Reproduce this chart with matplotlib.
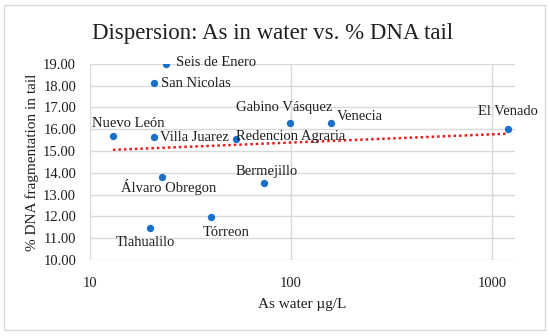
import numpy as np
import matplotlib
matplotlib.use("Agg")
import matplotlib.pyplot as plt
from matplotlib.patches import Rectangle

# sites, arsenic in water (ug/L) and % DNA in tail
sites = ["Nuevo León", "Villa Juarez", "Redencion Agraria", "Álvaro Obregon",
         "Bermejillo", "Tórreon", "Tlahualilo", "Gabino Vásquez", "Venecia",
         "El Venado", "Seis de Enero", "San Nicolas"]
as_water = [13.0, 20.8, 53.3, 22.9, 73.0, 39.8, 19.8, 98.4, 158.0, 1200.0, 23.9, 20.8]
dna_tail = [15.68, 15.62, 15.53, 13.82, 13.51, 11.95, 11.45, 16.29, 16.29, 15.99, 18.97, 18.10]

# label placement (pixel offsets from the point, ha)
label_pos = {
    "Nuevo León": (15, 13, "center"),
    "Villa Juarez": (6, 0, "left"),
    "Redencion Agraria": (0, 3, "left"),
    "Álvaro Obregon": (6, -10, "center"),
    "Bermejillo": (3, 12, "center"),
    "Tórreon": (16, -15, "center"),
    "Tlahualilo": (-4, -14, "center"),
    "Gabino Vásquez": (-5, 15, "center"),
    "Venecia": (6, 6, "left"),
    "El Venado": (0, 18, "center"),
    "Seis de Enero": (10, 2, "left"),
    "San Nicolas": (7, 0, "left"),
}

plt.rcParams["font.family"] = ["Liberation Serif", "DejaVu Serif"]

fig = plt.figure(figsize=(5.5, 3.36), dpi=100)
fig.patches.append(Rectangle((4 / 550, 6 / 336), 541 / 550, 325 / 336,
                             transform=fig.transFigure, fill=False,
                             edgecolor="#d9d9d9", linewidth=1))
ax = fig.add_axes([90 / 550, 1 - 260 / 336, 425 / 550, 196.3 / 336])

x = np.array(as_water)
y = np.array(dna_tail)

# logarithmic trendline
b, a = np.polyfit(np.log(x), y, 1)
xt = np.logspace(np.log10(x.min()), np.log10(x.max()), 200)
ax.plot(xt, a + b * np.log(xt), color="#e81c1c", linestyle=(0, (1, 1.2)),
        linewidth=1.8, zorder=2)

ax.scatter(x, y, s=28, color="#1a6fc9", zorder=3, linewidths=0)

for name, xv, yv in zip(sites, as_water, dna_tail):
    dx, dy, ha = label_pos[name]
    ax.annotate(name, (xv, yv), xytext=(dx, dy), textcoords="offset pixels",
                ha=ha, va="center", fontsize=10.5, color="#1f1f1f", zorder=4)

ax.set_xscale("log")
ax.set_xlim(10, 1300)
ax.set_ylim(10, 19)
ax.set_xticks([10, 100, 1000])
ax.set_xticklabels(["10", "100", "1000"])
ax.minorticks_off()
ax.set_yticks(np.arange(10, 19.5, 1))
ax.set_yticklabels([f"{v:.2f}" for v in np.arange(10, 19.5, 1)])
ax.tick_params(length=0, labelsize=10.5, labelcolor="#1f1f1f")
ax.tick_params(axis="x", pad=12)
ax.tick_params(axis="y", pad=10)
ax.grid(True, color="#d9d9d9", linewidth=1)
ax.set_axisbelow(True)
for s in ax.spines.values():
    s.set_visible(False)

ax.set_xlabel("As water µg/L", fontsize=11, color="#1f1f1f", labelpad=6)
ax.set_ylabel("% DNA fragmentation in tail", fontsize=11, color="#1f1f1f", labelpad=3)
fig.text(273 / 550, 1 - 33 / 336, "Dispersion: As in water vs. % DNA tail",
         ha="center", va="center", fontsize=16.5, color="#1f1f1f")

fig.savefig("out.png", dpi=100)
